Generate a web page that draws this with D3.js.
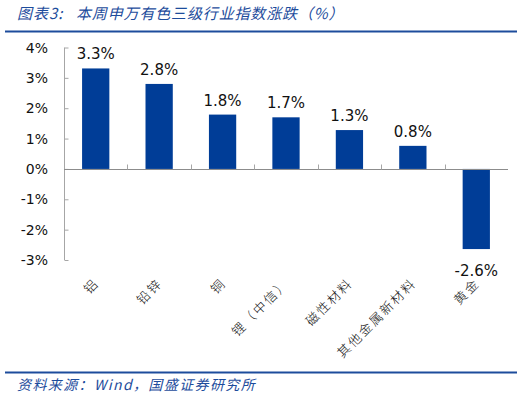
<!DOCTYPE html>
<html lang="zh">
<head>
<meta charset="UTF-8">
<title>本周申万有色三级行业指数涨跌</title>
<style>
    html, body { margin: 0; padding: 0; background: #fff; overflow: hidden; }
    svg { display: block; }
</style>
</head>
<body>
<script src="https://cdn.jsdelivr.net/npm/d3@7/dist/d3.min.js"></script>
<script>
    // data
    const categories = ['铝', '铅锌', '铜', '锂（中信）', '磁性材料', '其他金属新材料', '黄金']
    const values = [3.31, 2.80, 1.79, 1.70, 1.28, 0.76, -2.64]
    const valueLabels = ['3.3%', '2.8%', '1.8%', '1.7%', '1.3%', '0.8%', '-2.6%']
    const yTicks = [-3, -2, -1, 0, 1, 2, 3, 4]

    const width = 525
    const height = 398
    const blue = '#1d4c9c'

    const svg = d3.select('body').append('svg')
        .attr('width', width)
        .attr('height', height)

    // header
    const title = svg.append('g')
        .attr('fill', blue)
        .attr('font-family', '"Noto Sans CJK SC", sans-serif')
        .attr('font-style', 'italic')
        .attr('font-size', 15)
    title.append('text')
        .attr('x', 17).attr('y', 19)
        .attr('letter-spacing', 1)
        .text('图表3:')
    title.append('text')
        .attr('x', 76).attr('y', 19)
        .attr('letter-spacing', 0.85)
        .text('本周申万有色三级行业指数涨跌（%）')

    svg.append('line')
        .attr('x1', 5).attr('x2', 517)
        .attr('y1', 31.5).attr('y2', 31.5)
        .attr('stroke', blue).attr('stroke-width', 2)

    svg.append('line')
        .attr('x1', 5).attr('x2', 517)
        .attr('y1', 372.5).attr('y2', 372.5)
        .attr('stroke', blue).attr('stroke-width', 2)

    svg.append('text')
        .attr('x', 17).attr('y', 390)
        .attr('fill', blue)
        .attr('font-family', '"Noto Sans CJK SC", sans-serif')
        .attr('font-style', 'italic')
        .attr('font-size', 14)
        .attr('letter-spacing', 1.4)
        .text('资料来源：Wind，国盛证券研究所')

    // scales
    const x = d3.scaleBand()
        .domain(categories)
        .range([64, 508])
        .paddingInner(0.57)
        .paddingOuter(0.285)

    const step = x.step()

    const y = d3.scaleLinear()
        .domain([-3, 4])
        .range([260, 47.5])

    // y axis
    const yAxis = svg.append('g')
        .attr('transform', 'translate(64,0)')
        .call(d3.axisRight(y).tickValues(yTicks).tickSize(4).tickFormat(''))
    yAxis.select('.domain').attr('stroke', '#a6a6a6').attr('d', `M0.5,${y(4)}V${y(-3)}`)
    yAxis.selectAll('.tick line').attr('stroke', '#a6a6a6').attr('transform', 'translate(0.5,0)')

    svg.append('g').selectAll('text')
        .data(yTicks)
        .enter().append('text')
        .attr('x', 48)
        .attr('y', d => y(d))
        .attr('dy', '0.36em')
        .attr('text-anchor', 'end')
        .attr('font-family', '"DejaVu Sans", Verdana, sans-serif')
        .attr('font-size', 14)
        .attr('fill', '#111')
        .text(d => d + '%')

    // bars
    svg.append('g').selectAll('rect')
        .data(values)
        .enter().append('rect')
        .attr('x', (d, i) => x(categories[i]))
        .attr('width', x.bandwidth())
        .attr('y', d => y(Math.max(0, d)))
        .attr('height', d => Math.abs(y(d) - y(0)))
        .attr('fill', '#003d97')

    // zero line with category ticks
    const xAxis = svg.append('g')
        .attr('transform', `translate(0,${Math.round(y(0)) + 0.5})`)
    xAxis.append('line')
        .attr('x1', 64).attr('x2', 508)
        .attr('stroke', '#8c8c8c')
    xAxis.selectAll('.ctick')
        .data(d3.range(1, categories.length))
        .enter().append('line')
        .attr('class', 'ctick')
        .attr('x1', i => Math.round(64 + step * i) + 0.5)
        .attr('x2', i => Math.round(64 + step * i) + 0.5)
        .attr('y1', 0).attr('y2', -5)
        .attr('stroke', '#a6a6a6')

    // value labels
    svg.append('g').selectAll('text')
        .data(values)
        .enter().append('text')
        .attr('x', (d, i) => x(categories[i]) + x.bandwidth() / 2)
        .attr('y', d => d >= 0 ? y(d) - 9 : y(d) + 27)
        .attr('text-anchor', 'middle')
        .attr('font-family', '"DejaVu Sans", Verdana, sans-serif')
        .attr('font-size', 15)
        .attr('fill', '#111')
        .text((d, i) => valueLabels[i])

    // category labels, rotated
    svg.append('g').selectAll('text')
        .data(categories)
        .enter().append('text')
        .attr('transform', d => `translate(${x(d) + x.bandwidth() / 2 + 1},281) rotate(-45)`)
        .attr('text-anchor', 'end')
        .attr('dy', '0.35em')
        .attr('letter-spacing', 2)
        .attr('font-family', '"Noto Sans CJK SC", sans-serif')
        .attr('font-weight', 300)
        .attr('font-size', 13)
        .attr('fill', '#111')
        .text(d => d)
</script>
</body>
</html>
